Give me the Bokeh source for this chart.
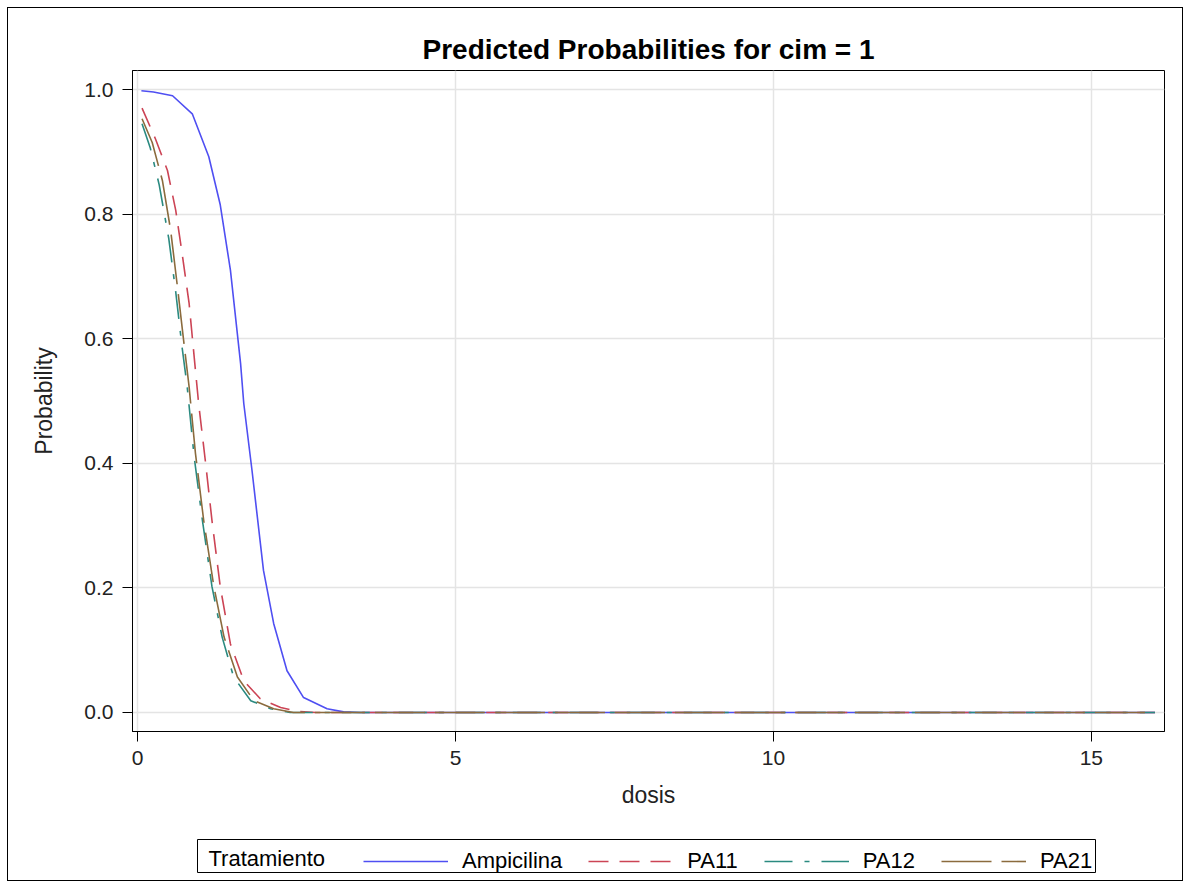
from bokeh.plotting import figure
from bokeh.layouts import column
from bokeh.models import Range1d, Legend, LegendItem, NumeralTickFormatter, Label, BoxAnnotation
from bokeh.embed import file_html
from bokeh.resources import INLINE

# ---- data ----
dosis_amp = [0.06, 0.25, 0.55, 0.86, 1.12, 1.30, 1.46, 1.62, 1.67, 1.80, 1.98, 2.14, 2.35, 2.61, 2.98, 3.24, 3.50, 16.0]
prob_amp  = [0.998, 0.996, 0.990, 0.961, 0.892, 0.815, 0.710, 0.560, 0.496, 0.388, 0.228, 0.143, 0.067, 0.024, 0.006, 0.001, 0.0, 0.0]

dosis_pa11 = [0.07, 0.28, 0.47, 0.60, 0.70, 0.81, 0.90, 0.96, 1.07, 1.17, 1.30, 1.46, 1.67, 1.93, 2.25, 2.51, 2.80, 16.0]
prob_pa11  = [0.970, 0.921, 0.870, 0.806, 0.737, 0.657, 0.560, 0.496, 0.400, 0.308, 0.202, 0.110, 0.051, 0.022, 0.008, 0.002, 0.0, 0.0]

dosis_pa12 = [0.07, 0.20, 0.34, 0.49, 0.60, 0.70, 0.78, 0.89, 1.02, 1.17, 1.33, 1.51, 1.78, 2.09, 2.40, 16.0]
prob_pa12  = [0.945, 0.906, 0.847, 0.761, 0.675, 0.586, 0.523, 0.410, 0.308, 0.202, 0.121, 0.057, 0.019, 0.006, 0.0, 0.0]

dosis_pa21 = [0.07, 0.23, 0.39, 0.52, 0.62, 0.73, 0.81, 0.91, 1.04, 1.20, 1.36, 1.57, 1.83, 2.14, 2.45, 16.0]
prob_pa21  = [0.953, 0.915, 0.854, 0.774, 0.689, 0.592, 0.523, 0.416, 0.308, 0.202, 0.121, 0.057, 0.019, 0.006, 0.0, 0.0]

series_names = ["Ampicilina", "PA11", "PA12", "PA21"]
legend_title = "Tratamiento"
x_ticks = [0, 5, 10, 15]
y_ticks = [0.0, 0.2, 0.4, 0.6, 0.8, 1.0]

FONT = "Liberation Sans"
styles = [
    dict(line_color="#4f4ff2", line_width=1.6),
    dict(line_color="#cc4455", line_width=1.6, line_dash="20 11"),
    dict(line_color="#2a8a80", line_width=1.6, line_dash="28 12 5 12"),
    dict(line_color="#8b6b3d", line_width=1.6, line_dash="50 10"),
]
series = [(dosis_amp, prob_amp), (dosis_pa11, prob_pa11), (dosis_pa12, prob_pa12), (dosis_pa21, prob_pa21)]

# ---------------- main plot ----------------
p = figure(frame_width=1032, frame_height=661,
           output_backend="svg", toolbar_location=None,
           x_range=Range1d(-0.08, 16.15), y_range=Range1d(-0.0305, 1.0305),
           min_border_left=125, min_border_right=19, min_border_top=63,
           min_border_bottom=95)
p.background_fill_color = "white"
p.border_fill_alpha = 0
p.outline_line_color = "black"
p.outline_line_width = 1

p.title.text = "Predicted Probabilities for cim = 1"
p.title.align = "center"
p.title.text_font = FONT
p.title.text_font_size = "28px"
p.title.text_font_style = "bold"
p.title.text_color = "black"
p.title.standoff = 12

for (xs, ys), st in zip(series, styles):
    p.line(xs, ys, **st)

p.xaxis.ticker = x_ticks
p.yaxis.ticker = y_ticks
p.yaxis.formatter = NumeralTickFormatter(format="0.0")
p.xaxis.axis_label = "dosis"
p.yaxis.axis_label = "Probability"
for ax in (p.xaxis, p.yaxis):
    ax.axis_line_color = "black"
    ax.major_tick_line_color = "black"
    ax.major_tick_in = 0
    ax.major_tick_out = 10
    ax.minor_tick_line_color = None
    ax.major_label_text_font = FONT
    ax.major_label_text_font_size = "21px"
    ax.major_label_text_color = "#222222"
    ax.axis_label_text_font = FONT
    ax.axis_label_text_font_size = "23px"
    ax.axis_label_text_font_style = "normal"
    ax.axis_label_text_color = "#222222"
    ax.major_label_standoff = 9
p.xaxis.axis_label_standoff = 14
p.yaxis.axis_label_standoff = 24

p.grid.grid_line_color = "#e4e4e4"
p.grid.grid_line_width = 1.5

# ---------------- legend strip ----------------
# same series drawn outside this strip's visible range, only to feed the legend
q = figure(frame_width=1032, frame_height=55, output_backend="svg", toolbar_location=None,
           x_range=Range1d(100, 200), y_range=Range1d(100, 200),
           x_axis_type=None, y_axis_type=None,
           min_border_left=125, min_border_right=19, min_border_top=0, min_border_bottom=0)
q.grid.visible = False
q.outline_line_color = None
q.background_fill_alpha = 0
q.border_fill_alpha = 0
rs = [q.line(xs, ys, **st) for (xs, ys), st in zip(series, styles)]

items = [LegendItem(label=n, renderers=[r]) for n, r in zip(series_names, rs)]
legend = Legend(items=items, orientation="horizontal", location=(231, 7))
legend.label_text_font = FONT
legend.label_text_font_size = "22px"
legend.label_text_color = "black"
legend.glyph_width = 85
legend.glyph_height = 22
legend.label_height = 22
legend.label_standoff = 14
legend.spacing = 26
legend.padding = 5
legend.margin = 0
legend.border_line_color = None
legend.background_fill_alpha = 0
q.add_layout(legend, "center")

q.add_layout(Label(x=76, y=23, x_units="screen", y_units="screen", text=legend_title,
                   text_font=FONT, text_font_size="22px", text_baseline="middle",
                   text_align="left", text_color="black"))
q.add_layout(BoxAnnotation(left=65, right=963, top=42, bottom=9,
                           left_units="screen", right_units="screen",
                           top_units="screen", bottom_units="screen",
                           fill_alpha=0, line_color="black", line_width=1, line_alpha=1))

lay = column(p, q, spacing=0, width=1176, height=874)
lay.margin = (7, 0, 0, 7)
lay.styles = {"outline": "1px solid black", "outline-offset": "-1px"}

open("out.html", "w").write(file_html(lay, INLINE))
